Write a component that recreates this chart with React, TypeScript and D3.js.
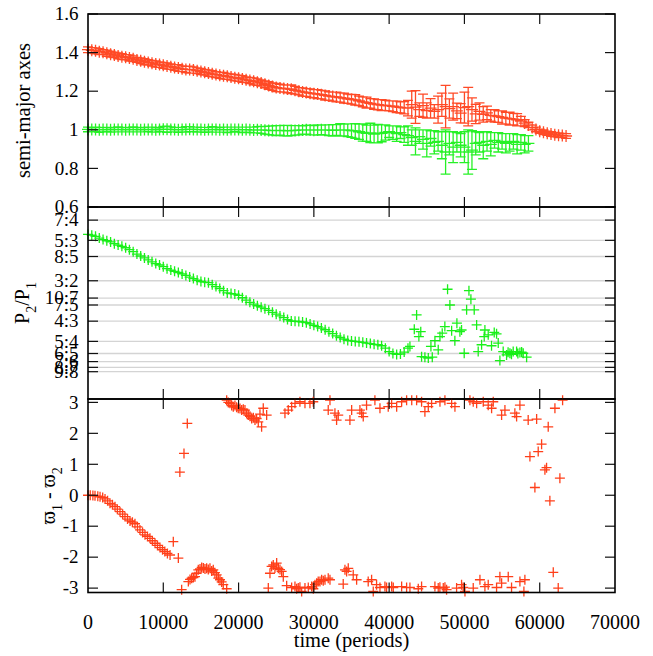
import React from "react";
import * as d3 from "d3";

// sampling interval of the dense series (periods)
const STEP = 500;

// semi-major axis of outer planet (red), sampled every STEP periods from t=0
const aOuter = [
  1.415, 1.412, 1.409, 1.405, 1.402, 1.397, 1.392, 1.388, 1.383, 1.379,
  1.376, 1.372, 1.368, 1.362, 1.358, 1.353, 1.349, 1.345, 1.341, 1.338,
  1.334, 1.330, 1.327, 1.323, 1.320, 1.316, 1.313, 1.312, 1.310, 1.306,
  1.302, 1.298, 1.294, 1.290, 1.286, 1.283, 1.280, 1.277, 1.273, 1.270,
  1.267, 1.263, 1.259, 1.255, 1.251, 1.247, 1.242, 1.236, 1.230, 1.224,
  1.219, 1.216, 1.214, 1.212, 1.210, 1.205, 1.200, 1.196, 1.193, 1.190,
  1.187, 1.185, 1.182, 1.178, 1.175, 1.172, 1.170, 1.167, 1.164, 1.161,
  1.158, 1.155, 1.150, 1.145, 1.141, 1.137, 1.133, 1.130, 1.128, 1.126,
  1.124, 1.122, 1.119, 1.116, 1.114, 1.112, 1.130, 1.118, 1.105, 1.125,
  1.100, 1.112, 1.095, 1.105, 1.130, 1.120, 1.110, 1.120, 1.098, 1.086,
  1.115, 1.120, 1.105, 1.082, 1.095, 1.080, 1.088, 1.075, 1.072, 1.068,
  1.064, 1.060, 1.058, 1.055, 1.052, 1.045, 1.035, 1.025, 1.012, 1.002,
  0.993, 0.987, 0.982, 0.978, 0.975, 0.972, 0.970, 0.968,
];
const aOuterErr = [
  0.015, 0.014, 0.016, 0.015, 0.013, 0.016, 0.015, 0.014, 0.016, 0.015,
  0.014, 0.016, 0.015, 0.013, 0.015, 0.016, 0.014, 0.015, 0.016, 0.014,
  0.015, 0.016, 0.014, 0.015, 0.017, 0.015, 0.016, 0.018, 0.016, 0.015,
  0.016, 0.015, 0.017, 0.016, 0.015, 0.016, 0.017, 0.015, 0.016, 0.017,
  0.016, 0.017, 0.015, 0.016, 0.018, 0.017, 0.016, 0.018, 0.020, 0.019,
  0.021, 0.020, 0.019, 0.020, 0.022, 0.020, 0.019, 0.021, 0.020, 0.022,
  0.021, 0.023, 0.022, 0.024, 0.022, 0.023, 0.025, 0.024, 0.026, 0.024,
  0.025, 0.027, 0.024, 0.026, 0.028, 0.025, 0.027, 0.026, 0.028, 0.027,
  0.026, 0.028, 0.030, 0.029, 0.032, 0.040, 0.070, 0.085, 0.035, 0.060,
  0.040, 0.050, 0.035, 0.070, 0.060, 0.110, 0.050, 0.070, 0.040, 0.050,
  0.080, 0.100, 0.060, 0.050, 0.045, 0.040, 0.035, 0.030, 0.032, 0.030,
  0.034, 0.031, 0.033, 0.030, 0.032, 0.025, 0.018, 0.014, 0.012, 0.012,
  0.011, 0.012, 0.011, 0.012, 0.011, 0.012, 0.011, 0.012,
];

// semi-major axis of inner planet (green)
const aInner = [
  1.002, 1.001, 1.002, 1.000, 1.001, 1.002, 1.000, 1.001, 1.002, 1.001,
  1.000, 1.001, 1.002, 1.001, 1.000, 1.001, 1.002, 1.001, 1.000, 1.002,
  1.003, 1.003, 1.002, 1.001, 1.000, 1.001, 1.002, 1.003, 1.002, 1.001,
  1.001, 1.000, 1.001, 1.002, 1.001, 1.000, 1.001, 1.000, 1.001, 1.002,
  1.001, 1.000, 1.001, 1.000, 0.999, 1.000, 0.999, 0.998, 0.997, 0.996,
  0.996, 0.997, 0.996, 0.995, 0.996, 0.997, 0.998, 0.999, 1.000, 0.999,
  0.998, 0.999, 1.000, 0.999, 0.998, 0.997, 0.999, 1.000, 0.999, 0.998,
  0.996, 0.994, 0.990, 0.986, 0.982, 0.984, 0.978, 0.980, 0.982, 0.986,
  0.990, 0.985, 0.980, 0.985, 0.975, 0.970, 0.960, 0.940, 0.965, 0.950,
  0.930, 0.955, 0.935, 0.940, 0.920, 0.885, 0.930, 0.910, 0.935, 0.920,
  0.910, 0.885, 0.895, 0.930, 0.935, 0.920, 0.940, 0.925, 0.945, 0.935,
  0.940, 0.930, 0.935, 0.940, 0.925, 0.935, 0.925, 0.930,
];
const aInnerErr = [
  0.012, 0.011, 0.012, 0.013, 0.012, 0.011, 0.012, 0.012, 0.013, 0.012,
  0.011, 0.012, 0.013, 0.012, 0.011, 0.012, 0.012, 0.013, 0.012, 0.011,
  0.014, 0.016, 0.013, 0.012, 0.013, 0.012, 0.014, 0.013, 0.012, 0.013,
  0.012, 0.013, 0.012, 0.014, 0.013, 0.012, 0.013, 0.014, 0.013, 0.012,
  0.013, 0.014, 0.013, 0.014, 0.015, 0.016, 0.018, 0.020, 0.022, 0.024,
  0.026, 0.025, 0.027, 0.028, 0.026, 0.025, 0.024, 0.022, 0.023, 0.025,
  0.024, 0.026, 0.025, 0.027, 0.028, 0.030, 0.028, 0.032, 0.030, 0.033,
  0.035, 0.038, 0.040, 0.045, 0.042, 0.050, 0.046, 0.048, 0.044, 0.040,
  0.030, 0.035, 0.040, 0.030, 0.040, 0.050, 0.040, 0.070, 0.035, 0.050,
  0.070, 0.040, 0.060, 0.050, 0.070, 0.115, 0.060, 0.080, 0.050, 0.060,
  0.080, 0.115, 0.100, 0.060, 0.050, 0.070, 0.050, 0.060, 0.040, 0.050,
  0.040, 0.050, 0.045, 0.040, 0.050, 0.040, 0.045, 0.040,
];

// period ratio P2/P1, dense part sampled every STEP periods from t=0
const ratioDense = [
  1.691, 1.688, 1.683, 1.676, 1.670, 1.665, 1.660, 1.653, 1.647, 1.642,
  1.636, 1.628, 1.620, 1.610, 1.602, 1.594, 1.586, 1.578, 1.571, 1.565,
  1.558, 1.550, 1.544, 1.539, 1.534, 1.528, 1.522, 1.515, 1.509, 1.502,
  1.497, 1.494, 1.492, 1.484, 1.476, 1.468, 1.459, 1.450, 1.447, 1.445,
  1.440, 1.430, 1.420, 1.411, 1.404, 1.397, 1.391, 1.385, 1.378, 1.370,
  1.362, 1.355, 1.348, 1.340, 1.334, 1.333, 1.332, 1.330, 1.327, 1.322,
  1.316, 1.311, 1.305, 1.298, 1.290, 1.282, 1.273, 1.266, 1.259, 1.254,
  1.252, 1.250, 1.248, 1.246, 1.243, 1.241, 1.238, 1.236, 1.232, 1.222,
  1.208, 1.200, 1.196, 1.198, 1.206, 1.222,
];
// period ratio, scattered part [time, P2/P1]
const ratioScatter = [
  [42760, 1.229], [43340, 1.300], [43650, 1.359], [43950, 1.270], [44200, 1.290],
  [44310, 1.187], [44750, 1.185], [45200, 1.181], [45550, 1.229], [45730, 1.185],
  [46080, 1.253], [46520, 1.215], [46750, 1.270], [47050, 1.284], [47400, 1.311],
  [47760, 1.465], [48070, 1.400], [48300, 1.294], [48730, 1.253], [49000, 1.325],
  [49400, 1.290], [49620, 1.297], [49970, 1.201], [50290, 1.380], [50600, 1.459],
  [50860, 1.424], [51300, 1.380], [51620, 1.318], [51830, 1.208], [52280, 1.236],
  [52630, 1.270], [52720, 1.297], [53160, 1.277], [53600, 1.232], [53960, 1.287],
  [54270, 1.281], [54490, 1.243], [54710, 1.171], [55150, 1.208], [55600, 1.194],
  [55800, 1.205], [56040, 1.201], [56250, 1.197], [56480, 1.208], [56930, 1.208],
  [57100, 1.200], [57370, 1.204], [57600, 1.206], [57810, 1.201], [58260, 1.185],
];

// difference of longitudes of pericentre [time, radians]
const phaseDiff = [
  [0, 0.0], [300, 0.0], [650, -0.01], [930, -0.02], [1300, -0.03], [1600, -0.05],
  [1950, -0.07], [2260, -0.12], [2600, -0.18], [2920, -0.26], [3250, -0.31],
  [3590, -0.37], [3900, -0.45], [4250, -0.53], [4600, -0.61], [4910, -0.69],
  [5250, -0.77], [5580, -0.83], [5900, -0.87], [6240, -0.92], [6570, -1.02],
  [6900, -1.12], [7250, -1.2], [7570, -1.28], [7900, -1.33], [8230, -1.39],
  [8550, -1.47], [8900, -1.55], [9230, -1.62], [9560, -1.69], [9900, -1.76],
  [10200, -1.82], [10550, -1.88], [10900, -1.93], [11330, -1.5], [12000, -2.03],
  [12200, 0.75], [12750, 1.35], [13190, 2.32], [12440, -3.05],
  [13330, -2.79], [13550, -2.72], [13770, -2.68], [14000, -2.66], [14210, -2.63],
  [14430, -2.52], [14650, -2.41], [14880, -2.38], [15100, -2.33], [15330, -2.35],
  [15540, -2.38], [15760, -2.36], [15980, -2.4], [16200, -2.36], [16420, -2.45],
  [16640, -2.41], [16860, -2.5], [17090, -2.57], [17310, -2.68], [17530, -2.73],
  [17750, -2.8], [17970, -2.89], [18420, -3.02],
  [18420, 3.07], [18640, 3.0], [18860, 2.97], [19080, 2.9], [19300, 2.86],
  [19520, 2.9], [19740, 2.84], [19960, 2.81], [20190, 2.8], [20410, 2.75],
  [20630, 2.78], [20850, 2.75], [21070, 2.65], [21290, 2.59], [21510, 2.55],
  [21740, 2.48], [21960, 2.5], [22180, 2.43], [22400, 2.48], [22620, 2.37],
  [22840, 2.62], [23060, 2.21], [23280, 2.81], [23730, 2.59],
  [23950, -3.0], [24170, -2.52], [24390, -2.3], [24610, -2.25], [24830, -2.35],
  [25060, -2.19], [25280, -2.36], [25500, -2.4], [25720, -2.46], [25940, -2.63],
  [26390, -2.92], [27050, -2.98], [27490, -2.95], [27710, -3.02], [27930, -3.0],
  [28150, -2.97], [28380, -3.11], [28820, -3.0], [29260, -2.98], [29710, -2.95],
  [29930, -3.02], [30150, -2.89], [30370, -2.84], [30580, -2.79], [30810, -2.79],
  [31030, -2.73], [31250, -2.76], [31480, -2.73], [31910, -2.68], [32140, -2.73],
  [33900, -2.87], [34130, -2.41], [34350, -2.46], [34570, -2.36], [35230, -2.57],
  [35680, -2.73], [37220, -2.79], [37670, -2.73], [37890, -3.11], [38330, -2.89],
  [38780, -2.98], [39440, -2.95], [39660, -2.98], [40330, -2.95], [40550, -2.98],
  [41660, -2.95], [42320, -2.98], [42760, -2.98], [43870, -3.02], [44310, -2.95],
  [46080, -2.95], [46520, -3.0], [46740, -2.97], [47190, -3.0], [47410, -2.97],
  [47630, -3.05], [48960, -3.0], [49620, -2.89], [49840, -2.98], [50070, -3.11],
  [51170, -3.0], [52060, -2.73], [52720, -2.95], [53160, -2.89], [54270, -2.98],
  [54710, -2.63], [54940, -2.84], [55820, -2.63], [56260, -2.98], [57370, -2.79],
  [57900, -3.11], [58030, -2.73], [61800, -2.49], [62460, -3.0],
  [26160, 2.65], [26600, 2.75], [27050, 2.86], [27490, 2.97], [28150, 3.02],
  [28820, 2.97], [29480, 2.97], [29920, 3.02], [31910, 2.75], [32140, 3.07],
  [32800, 2.65], [33020, 2.43], [33240, 2.59], [34790, 2.43], [35020, 2.75],
  [36120, 2.75], [36350, 2.65], [36560, 2.54], [37000, 2.91], [38110, 3.07],
  [38780, 2.81], [39880, 2.86], [40330, 2.97], [41000, 2.86], [41660, 3.02],
  [42320, 3.07], [43000, 3.07], [43650, 3.07], [44310, 3.02], [44750, 2.7],
  [45200, 2.86], [45640, 2.97], [46750, 3.02], [47410, 3.07], [48300, 2.97],
  [48740, 2.86], [50730, 3.07], [51170, 3.02], [51620, 2.97], [52500, 3.02],
  [53160, 2.91], [53610, 2.81], [53830, 3.02], [54940, 2.59], [55380, 2.75],
  [56700, 2.65], [56930, 2.54], [57370, 2.91], [58470, 2.43], [59590, 2.46],
  [61130, 2.21], [62020, 2.81], [63040, 3.07],
  [58700, 1.25], [59360, 0.25], [59800, 1.41], [60250, 1.65], [60690, 0.82],
  [60910, 0.89], [61350, -0.18], [62680, 0.55],
];

const timeTicks = [0, 10000, 20000, 30000, 40000, 50000, 60000, 70000];
const axisTicks = [0.6, 0.8, 1, 1.2, 1.4, 1.6];
const resonances = [
  ["7:4", 7, 4], ["5:3", 5, 3], ["8:5", 8, 5], ["3:2", 3, 2], ["10:7", 10, 7],
  ["7:5", 7, 5], ["4:3", 4, 3], ["5:4", 5, 4], ["6:5", 6, 5], ["7:6", 7, 6],
  ["8:7", 8, 7], ["9:8", 9, 8],
];
const phaseTicks = [-3, -2, -1, 0, 1, 2, 3];

const RED = "#ff2a00";
const GREEN = "#00ee00";
const FONT = "Liberation Serif";

const L = 88;
const R = 615;
const P1 = [14, 207];
const P2 = [207, 399];
const P3 = [399, 592.5];

const x = d3.scaleLinear().domain([0, 70000]).range([L, R]);
const yA = d3.scaleLinear().domain([0.6, 1.6]).range([P1[1], P1[0]]);
const yP = d3.scaleLinear().domain([1.0, 1.8]).range([402, 208]);
const yW = d3.scaleLinear().domain([-Math.PI, Math.PI]).range([592.5, 398]);

const plus = (px: number, py: number, s = 5) =>
  `M${px - s},${py}h${2 * s}M${px},${py - s}v${2 * s}`;

function errPath(vals: number[], errs: number[]) {
  let d = "";
  vals.forEach((v, i) => {
    const px = x(i * STEP);
    const y0 = yA(v + errs[i]);
    const y1 = yA(v - errs[i]);
    const c = 5;
    d += `M${px},${y0}V${y1}M${px - c},${y0}h${2 * c}M${px - c},${y1}h${2 * c}`;
    d += plus(px, yA(v), 6);
  });
  return d;
}

const txt = { fontFamily: FONT, fill: "#000" };

function Frame({ top, bottom, y, yTicks }: any) {
  const tl = 10;
  return (
    <g>
      {timeTicks.slice(1, -1).map((t) => (
        <g key={t} stroke="#111" strokeWidth={1.2}>
          <line x1={x(t)} x2={x(t)} y1={top} y2={top + tl} />
          <line x1={x(t)} x2={x(t)} y1={bottom} y2={bottom - tl} />
        </g>
      ))}
      {yTicks.map((v: number, i: number) => (
        <g key={i} stroke="#111" strokeWidth={1.2}>
          <line x1={L} x2={L + tl} y1={y(v)} y2={y(v)} />
          <line x1={R} x2={R - tl} y1={y(v)} y2={y(v)} />
        </g>
      ))}
      <rect x={L} y={top} width={R - L} height={bottom - top} fill="none" stroke="#000" strokeWidth={1.6} />
    </g>
  );
}

export default function App() {
  const resVals = resonances.map((r) => (r[1] as number) / (r[2] as number));
  return (
    <svg width={653} height={656} style={{ position: "absolute", left: 0, top: 0, background: "#fff" }}>
      <rect width={653} height={656} fill="#fff" />

      {/* Panel 1: semi-major axes */}
      <path d={errPath(aOuter, aOuterErr)} stroke={RED} strokeWidth={1.3} fill="none" strokeOpacity={0.85} />
      <path d={errPath(aInner, aInnerErr)} stroke={GREEN} strokeWidth={1.3} fill="none" strokeOpacity={0.85} />
      <Frame top={P1[0]} bottom={P1[1]} y={yA} yTicks={axisTicks} />
      {axisTicks.map((v) => (
        <text key={v} x={78.5} y={yA(v)} dy="0.33em" textAnchor="end" fontSize={19} style={txt}>
          {String(+v.toFixed(1))}
        </text>
      ))}
      <text transform="rotate(-90)" x={-(P1[0] + P1[1]) / 2} y={30} textAnchor="middle" fontSize={20.5} style={txt}>
        semi-major axes
      </text>

      {/* Panel 2: period ratio */}
      {resVals.map((v, i) => (
        <line key={i} x1={L} x2={R} y1={yP(v)} y2={yP(v)} stroke="#d4d4d4" strokeWidth={1.3} />
      ))}
      <path
        d={ratioDense.map((v, i) => plus(x(i * STEP), yP(v))).join("") +
          ratioScatter.map((p) => plus(x(p[0]), yP(p[1]))).join("")}
        stroke={GREEN} strokeWidth={1.3} fill="none" strokeOpacity={0.9}
      />
      <Frame top={P2[0]} bottom={P2[1]} y={yP} yTicks={resVals} />
      {resonances.map((r, i) => (
        <text key={i} x={78.5} y={yP(resVals[i])} dy="0.33em" textAnchor="end" fontSize={19} style={txt}>
          {r[0] as string}
        </text>
      ))}
      <text transform="rotate(-90)" x={-(P2[0] + P2[1]) / 2} y={29} textAnchor="middle" fontSize={20} style={{ ...txt, whiteSpace: "pre" }}>
        <tspan>P</tspan>
        <tspan fontSize={14} dy={7}>2</tspan>
        <tspan dy={-7}>/P</tspan>
        <tspan fontSize={14} dy={7}>1</tspan>
      </text>

      {/* Panel 3: pericentre difference */}
      <path
        d={phaseDiff.map((p) => plus(x(p[0]), yW(p[1]))).join("")}
        stroke={RED} strokeWidth={1.3} fill="none" strokeOpacity={0.9}
      />
      <Frame top={P3[0]} bottom={P3[1]} y={yW} yTicks={phaseTicks} />
      {phaseTicks.map((v) => (
        <text key={v} x={78.5} y={yW(v)} dy="0.33em" textAnchor="end" fontSize={19} style={txt}>
          {String(v)}
        </text>
      ))}
      <text transform="rotate(-90)" x={-(P3[0] + P3[1]) / 2} y={55} textAnchor="middle" fontSize={20} style={{ ...txt, whiteSpace: "pre" }}>
        <tspan>ϖ</tspan>
        <tspan fontSize={14} dy={7}>1</tspan>
        <tspan dy={-7}> - ϖ</tspan>
        <tspan fontSize={14} dy={7}>2</tspan>
      </text>

      {timeTicks.map((t) => (
        <text key={t} x={x(t)} y={628.5} textAnchor="middle" fontSize={20} style={txt}>
          {String(t)}
        </text>
      ))}
      <text x={(L + R) / 2} y={647} textAnchor="middle" fontSize={20.5} style={txt}>
        time (periods)
      </text>
    </svg>
  );
}
